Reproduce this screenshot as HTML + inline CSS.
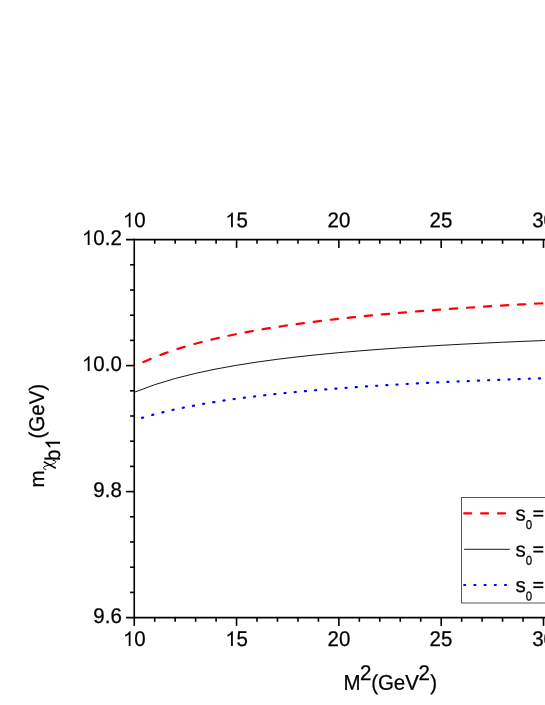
<!DOCTYPE html>
<html><head><meta charset="utf-8"><title>chart</title>
<style>
html,body{margin:0;padding:0;background:#fff;}
body{width:545px;height:705px;overflow:hidden;}
svg{display:block;will-change:transform;}
text{font-family:"Liberation Sans",sans-serif;fill:#000;stroke:#000;stroke-width:0.25px;}
</style></head><body>
<svg width="545" height="705" viewBox="0 0 545 705">
<rect width="545" height="705" fill="#fff"/>
<polyline fill="none" stroke="#000" stroke-width="0.92" points="134.25,392.30 154.71,384.68 175.18,378.48 195.64,373.34 216.10,369.00 236.56,365.29 257.02,362.08 277.49,359.28 297.95,356.81 318.41,354.62 338.88,352.66 359.34,350.90 379.80,349.31 400.26,347.86 420.72,346.54 441.19,345.33 461.65,344.22 482.11,343.19 502.57,342.24 523.04,341.36 543.50,340.54 563.96,339.77"/>
<path fill="none" stroke="#ff0000" stroke-width="2.2" stroke-linecap="round" d="M143.35,362.08 L147.00,360.44 L150.65,358.87 M160.38,354.97 L164.03,353.61 L167.68,352.29 M177.41,349.02 L181.06,347.87 L184.71,346.75 M194.44,343.96 L198.09,342.96 L201.74,342.00 M211.47,339.57 L215.12,338.71 L218.77,337.87 M228.50,335.73 L232.15,334.97 L235.80,334.23 M245.53,332.33 L249.18,331.65 L252.83,330.99 M262.56,329.29 L266.21,328.68 L269.86,328.09 M279.59,326.56 L283.24,326.00 L286.89,325.46 M296.62,324.08 L300.27,323.57 L303.92,323.08 M313.65,321.81 L317.30,321.36 L320.95,320.91 M330.68,319.74 L334.33,319.32 L337.98,318.91 M347.71,317.84 L351.36,317.45 L355.01,317.06 M364.74,316.08 L368.39,315.71 L372.04,315.36 M381.77,314.44 L385.42,314.11 L389.07,313.78 M398.80,312.92 L402.45,312.61 L406.10,312.30 M415.83,311.50 L419.48,311.21 L423.13,310.93 M432.86,310.18 L436.51,309.91 L440.16,309.64 M449.89,308.93 L453.54,308.68 L457.19,308.42 M466.92,307.77 L470.57,307.52 L474.22,307.29 M483.95,306.66 L487.60,306.44 L491.25,306.21 M500.98,305.63 L504.63,305.41 L508.28,305.20 M518.01,304.64 L521.66,304.44 L525.31,304.24 M535.04,303.71 L538.69,303.52 L542.34,303.33"/>
<path fill="none" stroke="#0000ff" stroke-width="2.2" stroke-linecap="round" d="M142.05,417.85 L143.15,417.52 M152.23,414.97 L153.33,414.68 M162.40,412.36 L163.50,412.09 M172.58,409.97 L173.68,409.73 M182.76,407.79 L183.86,407.56 M192.93,405.78 L194.03,405.57 M203.11,403.93 L204.21,403.74 M213.29,402.21 L214.39,402.04 M223.47,400.63 L224.57,400.46 M233.64,399.15 L234.74,399.00 M243.82,397.77 L244.92,397.63 M254.00,396.49 L255.10,396.35 M264.17,395.28 L265.27,395.16 M274.35,394.15 L275.45,394.03 M284.53,393.09 L285.63,392.98 M294.70,392.09 L295.81,391.98 M304.88,391.15 L305.98,391.05 M315.06,390.25 L316.16,390.16 M325.24,389.41 L326.34,389.32 M335.41,388.61 L336.51,388.53 M345.59,387.85 L346.69,387.77 M355.77,387.13 L356.87,387.06 M365.94,386.45 L367.04,386.38 M376.12,385.80 L377.22,385.73 M386.30,385.17 L387.40,385.11 M396.47,384.58 L397.57,384.52 M406.65,384.01 L407.75,383.95 M416.83,383.47 L417.93,383.41 M427.01,382.95 L428.11,382.90 M437.18,382.45 L438.28,382.40 M447.36,381.97 L448.46,381.92 M457.54,381.52 L458.64,381.47 M467.71,381.08 L468.81,381.03 M477.89,380.65 L478.99,380.61 M488.07,380.25 L489.17,380.20 M498.24,379.85 L499.34,379.81 M508.42,379.48 L509.52,379.44 M518.60,379.11 L519.70,379.07 M528.78,378.76 L529.88,378.72 M538.95,378.42 L540.05,378.38"/>
<g stroke="#000" stroke-width="1.6" fill="none">
<line x1="134.25" y1="238.79999999999998" x2="134.25" y2="618.4"/>
<line x1="125.95" y1="239.6" x2="545" y2="239.6"/>
<line x1="125.95" y1="617.6" x2="545" y2="617.6"/>
<line x1="134.25" y1="617.6" x2="134.25" y2="625.9"/>
<line x1="154.71" y1="239.6" x2="154.71" y2="243.79999999999998"/>
<line x1="154.71" y1="617.6" x2="154.71" y2="621.8000000000001"/>
<line x1="175.18" y1="239.6" x2="175.18" y2="243.79999999999998"/>
<line x1="175.18" y1="617.6" x2="175.18" y2="621.8000000000001"/>
<line x1="195.64" y1="239.6" x2="195.64" y2="243.79999999999998"/>
<line x1="195.64" y1="617.6" x2="195.64" y2="621.8000000000001"/>
<line x1="216.10" y1="239.6" x2="216.10" y2="243.79999999999998"/>
<line x1="216.10" y1="617.6" x2="216.10" y2="621.8000000000001"/>
<line x1="236.56" y1="239.6" x2="236.56" y2="247.9"/>
<line x1="236.56" y1="617.6" x2="236.56" y2="625.9"/>
<line x1="257.02" y1="239.6" x2="257.02" y2="243.79999999999998"/>
<line x1="257.02" y1="617.6" x2="257.02" y2="621.8000000000001"/>
<line x1="277.49" y1="239.6" x2="277.49" y2="243.79999999999998"/>
<line x1="277.49" y1="617.6" x2="277.49" y2="621.8000000000001"/>
<line x1="297.95" y1="239.6" x2="297.95" y2="243.79999999999998"/>
<line x1="297.95" y1="617.6" x2="297.95" y2="621.8000000000001"/>
<line x1="318.41" y1="239.6" x2="318.41" y2="243.79999999999998"/>
<line x1="318.41" y1="617.6" x2="318.41" y2="621.8000000000001"/>
<line x1="338.88" y1="239.6" x2="338.88" y2="247.9"/>
<line x1="338.88" y1="617.6" x2="338.88" y2="625.9"/>
<line x1="359.34" y1="239.6" x2="359.34" y2="243.79999999999998"/>
<line x1="359.34" y1="617.6" x2="359.34" y2="621.8000000000001"/>
<line x1="379.80" y1="239.6" x2="379.80" y2="243.79999999999998"/>
<line x1="379.80" y1="617.6" x2="379.80" y2="621.8000000000001"/>
<line x1="400.26" y1="239.6" x2="400.26" y2="243.79999999999998"/>
<line x1="400.26" y1="617.6" x2="400.26" y2="621.8000000000001"/>
<line x1="420.72" y1="239.6" x2="420.72" y2="243.79999999999998"/>
<line x1="420.72" y1="617.6" x2="420.72" y2="621.8000000000001"/>
<line x1="441.19" y1="239.6" x2="441.19" y2="247.9"/>
<line x1="441.19" y1="617.6" x2="441.19" y2="625.9"/>
<line x1="461.65" y1="239.6" x2="461.65" y2="243.79999999999998"/>
<line x1="461.65" y1="617.6" x2="461.65" y2="621.8000000000001"/>
<line x1="482.11" y1="239.6" x2="482.11" y2="243.79999999999998"/>
<line x1="482.11" y1="617.6" x2="482.11" y2="621.8000000000001"/>
<line x1="502.57" y1="239.6" x2="502.57" y2="243.79999999999998"/>
<line x1="502.57" y1="617.6" x2="502.57" y2="621.8000000000001"/>
<line x1="523.04" y1="239.6" x2="523.04" y2="243.79999999999998"/>
<line x1="523.04" y1="617.6" x2="523.04" y2="621.8000000000001"/>
<line x1="543.50" y1="239.6" x2="543.50" y2="247.9"/>
<line x1="543.50" y1="617.6" x2="543.50" y2="625.9"/>
<line x1="130.05" y1="264.80" x2="134.25" y2="264.80"/>
<line x1="130.05" y1="290.00" x2="134.25" y2="290.00"/>
<line x1="130.05" y1="315.20" x2="134.25" y2="315.20"/>
<line x1="130.05" y1="340.40" x2="134.25" y2="340.40"/>
<line x1="125.95" y1="365.60" x2="134.25" y2="365.60"/>
<line x1="130.05" y1="390.80" x2="134.25" y2="390.80"/>
<line x1="130.05" y1="416.00" x2="134.25" y2="416.00"/>
<line x1="130.05" y1="441.20" x2="134.25" y2="441.20"/>
<line x1="130.05" y1="466.40" x2="134.25" y2="466.40"/>
<line x1="125.95" y1="491.60" x2="134.25" y2="491.60"/>
<line x1="130.05" y1="516.80" x2="134.25" y2="516.80"/>
<line x1="130.05" y1="542.00" x2="134.25" y2="542.00"/>
<line x1="130.05" y1="567.20" x2="134.25" y2="567.20"/>
<line x1="130.05" y1="592.40" x2="134.25" y2="592.40"/>
</g>
<rect x="134.0" y="366.3" width="1.0" height="1.4" fill="#d00000"/>
<text transform="translate(81.90,245.10) rotate(0.03) scale(1,1.0405)" font-size="20.5px"><tspan style="fill:none;stroke:none">1</tspan>0.2</text>
<path transform="translate(81.90,245.10) scale(0.01001,-0.01001)" d="M763 0H583V1147Q518 1085 412.5 1023Q307 961 223 930V1104Q374 1175 487 1276Q600 1377 647 1472H763Z"/>
<text transform="translate(81.90,371.10) rotate(0.03) scale(1,1.0405)" font-size="20.5px"><tspan style="fill:none;stroke:none">1</tspan>0.0</text>
<path transform="translate(81.90,371.10) scale(0.01001,-0.01001)" d="M763 0H583V1147Q518 1085 412.5 1023Q307 961 223 930V1104Q374 1175 487 1276Q600 1377 647 1472H763Z"/>
<text transform="translate(93.30,497.10) rotate(0.03) scale(1,1.0405)" font-size="20.5px">9.8</text>
<text transform="translate(93.30,623.10) rotate(0.03) scale(1,1.0405)" font-size="20.5px">9.6</text>
<text transform="translate(122.90,227.15) rotate(0.03) scale(1,1.0405)" font-size="20.5px"><tspan style="fill:none;stroke:none">1</tspan>0</text>
<path transform="translate(122.90,227.15) scale(0.01001,-0.01001)" d="M763 0H583V1147Q518 1085 412.5 1023Q307 961 223 930V1104Q374 1175 487 1276Q600 1377 647 1472H763Z"/>
<text transform="translate(122.90,645.90) rotate(0.03) scale(1,1.0405)" font-size="20.5px"><tspan style="fill:none;stroke:none">1</tspan>0</text>
<path transform="translate(122.90,645.90) scale(0.01001,-0.01001)" d="M763 0H583V1147Q518 1085 412.5 1023Q307 961 223 930V1104Q374 1175 487 1276Q600 1377 647 1472H763Z"/>
<text transform="translate(225.21,227.15) rotate(0.03) scale(1,1.0405)" font-size="20.5px"><tspan style="fill:none;stroke:none">1</tspan>5</text>
<path transform="translate(225.21,227.15) scale(0.01001,-0.01001)" d="M763 0H583V1147Q518 1085 412.5 1023Q307 961 223 930V1104Q374 1175 487 1276Q600 1377 647 1472H763Z"/>
<text transform="translate(225.21,645.90) rotate(0.03) scale(1,1.0405)" font-size="20.5px"><tspan style="fill:none;stroke:none">1</tspan>5</text>
<path transform="translate(225.21,645.90) scale(0.01001,-0.01001)" d="M763 0H583V1147Q518 1085 412.5 1023Q307 961 223 930V1104Q374 1175 487 1276Q600 1377 647 1472H763Z"/>
<text transform="translate(327.52,227.15) rotate(0.03) scale(1,1.0405)" font-size="20.5px">20</text>
<text transform="translate(327.52,645.90) rotate(0.03) scale(1,1.0405)" font-size="20.5px">20</text>
<text transform="translate(429.54,227.15) rotate(0.03) scale(1,1.0405)" font-size="20.5px">25</text>
<text transform="translate(429.54,645.90) rotate(0.03) scale(1,1.0405)" font-size="20.5px">25</text>
<text transform="translate(532.15,227.15) rotate(0.03) scale(1,1.0405)" font-size="20.5px">30</text>
<text transform="translate(532.15,645.90) rotate(0.03) scale(1,1.0405)" font-size="20.5px">30</text>
<text transform="translate(343.40,689.80) rotate(0.03) scale(1,1.0405)" font-size="20.5px">M</text>
<text transform="translate(360.08,679.90) rotate(0.03) scale(1,1.0405)" font-size="20.5px">2</text>
<text transform="translate(371.28,689.80) rotate(0.03) scale(1,1.0405)" font-size="20.5px">(</text>
<text transform="translate(377.90,689.80) rotate(0.03) scale(1,1.0405)" font-size="20.5px">GeV</text>
<text transform="translate(418.57,679.90) rotate(0.03) scale(1,1.0405)" font-size="20.5px">2</text>
<text transform="translate(430.13,689.80) rotate(0.03) scale(1,1.0405)" font-size="20.5px">)</text>
<g transform="translate(44.1,487.6) rotate(-90)">
<text transform="translate(0.00,0.00) rotate(0.03) scale(1,1.0000)" font-size="20.5px">m</text>
<text transform="translate(16.58,8.6)" font-size="17px" style="fill:none;stroke:none">χ</text>
<text transform="translate(26.70,16.00) rotate(0.03) scale(1,1.0405)" font-size="20.5px">b<tspan style="fill:none;stroke:none">1</tspan></text>
<path transform="translate(38.10,16.00) scale(0.01001,-0.01001)" d="M763 0H583V1147Q518 1085 412.5 1023Q307 961 223 930V1104Q374 1175 487 1276Q600 1377 647 1472H763Z"/>
<text transform="translate(49.10,0.00) rotate(0.03) scale(1,1.0405)" font-size="20.5px">(GeV)</text>
</g>
<path d="M43.7,461.6 L55.8,468.2" stroke="#000" stroke-width="1.55" fill="none"/>
<path d="M45.9,469.4 C44.6,469.5 43.4,468.7 43.6,467.7 C43.7,466.8 44.5,466.4 45.3,466.2 L52.5,464.0 C54.0,463.5 55.0,463.1 55.4,462.6 C55.9,462.0 55.7,461.2 55.2,460.8 C54.7,460.4 54.0,460.2 53.3,460.4" stroke="#000" stroke-width="1.0" fill="none" stroke-linecap="round"/>
<rect x="461.5" y="497.5" width="100" height="105.5" fill="#fff" stroke="#585858" stroke-width="1"/>
<path fill="none" stroke="#ff0000" stroke-width="2.2" stroke-linecap="round" d="M464.20,513.45 h7.0 M481.10,513.45 h7.0 M498.00,513.45 h7.0"/>
<line x1="464.1" y1="549.3" x2="509.8" y2="549.3" stroke="#000" stroke-width="0.9"/>
<path fill="none" stroke="#0000ff" stroke-width="2.2" stroke-linecap="round" d="M464.15,585.0 h1.1 M474.35,585.0 h1.1 M484.55,585.0 h1.1 M494.75,585.0 h1.1 M504.95,585.0 h1.1"/>
<text transform="translate(515.50,520.50) rotate(0.03) scale(1,1.0000)" font-size="20.5px">s</text>
<text transform="translate(525.80,528.90) rotate(0.03) scale(1,1.1100)" font-size="11.5px">0</text>
<text transform="translate(532.4,520.5)" font-size="20.5px" style="fill:none;stroke:none">=</text>
<rect x="533.3" y="510.40" width="10" height="1.8"/><rect x="533.3" y="514.80" width="10" height="1.8"/>
<text transform="translate(515.50,556.40) rotate(0.03) scale(1,1.0000)" font-size="20.5px">s</text>
<text transform="translate(525.80,564.80) rotate(0.03) scale(1,1.1100)" font-size="11.5px">0</text>
<text transform="translate(532.4,556.4)" font-size="20.5px" style="fill:none;stroke:none">=</text>
<rect x="533.3" y="546.30" width="10" height="1.8"/><rect x="533.3" y="550.70" width="10" height="1.8"/>
<text transform="translate(515.50,592.00) rotate(0.03) scale(1,1.0000)" font-size="20.5px">s</text>
<text transform="translate(525.80,600.40) rotate(0.03) scale(1,1.1100)" font-size="11.5px">0</text>
<text transform="translate(532.4,592.0)" font-size="20.5px" style="fill:none;stroke:none">=</text>
<rect x="533.3" y="581.90" width="10" height="1.8"/><rect x="533.3" y="586.30" width="10" height="1.8"/>
</svg>
</body></html>
